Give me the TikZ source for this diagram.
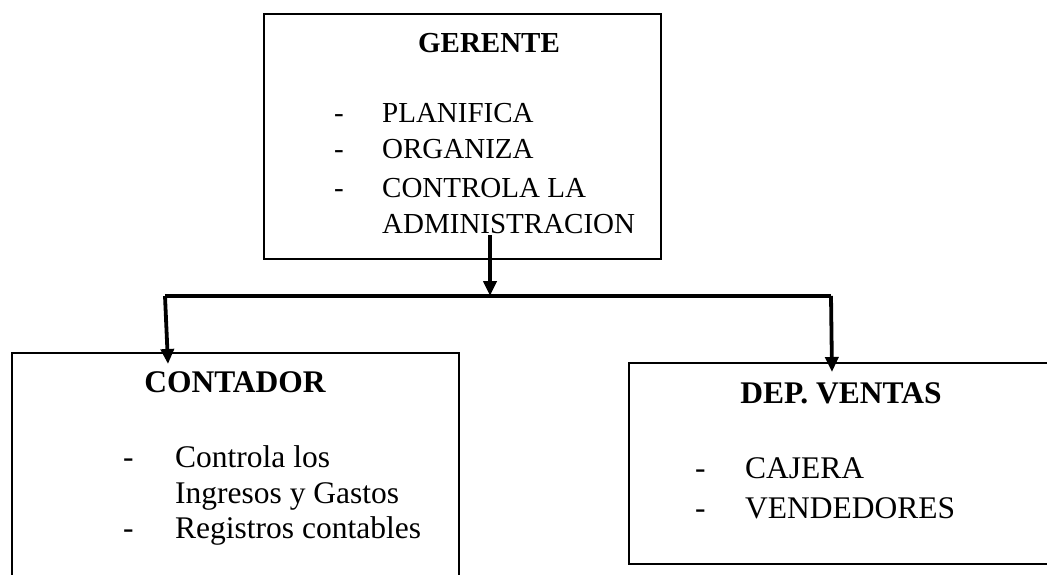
\documentclass[tikz,border=0pt]{standalone}
\usepackage{fontspec}
\setmainfont{Liberation Serif}
\usetikzlibrary{arrows.meta}
\tikzset{
  box/.style={draw=black, line width=2.2pt, inner sep=0pt, anchor=north west},
  smalltxt/.style={inner sep=0pt, anchor=base west, font=\fontsize{29}{35}\selectfont},
  bigtxt/.style={inner sep=0pt, anchor=base west, font=\fontsize{31.5}{38}\selectfont},
  headA/.style={inner sep=0pt, anchor=base, font=\fontsize{29}{35}\selectfont\bfseries},
  headB/.style={inner sep=0pt, anchor=base, font=\fontsize{31.5}{38}\selectfont\bfseries},
  conn/.style={line width=3.8pt, line join=miter},
  arr/.style={line width=3.8pt, -{Triangle[length=15pt,width=13pt]}}
}
\begin{document}
\begin{tikzpicture}[x=1pt,y=-1pt]
\useasboundingbox (0,0) rectangle (1047,575);
\clip (0,0) rectangle (1047,575);
% boxes
\node[box, minimum width=397pt, minimum height=245pt] (ger) at (263,13) {};
\node[box, minimum width=447pt, minimum height=260pt] (con) at (11,352) {};
\node[box, minimum width=450pt, minimum height=201pt] (ven) at (628,362) {};
% GERENTE text
\node[headA] (gt) at (489,53) {GERENTE};
\node[smalltxt] (gd1) at (334,123) {-};
\node[smalltxt] (gl1) at (382,123) {PLANIFICA};
\node[smalltxt] (gd2) at (334,159) {-};
\node[smalltxt] (gl2) at (382,159) {ORGANIZA};
\node[smalltxt] (gd3) at (334,197) {-};
\node[smalltxt] (gl3) at (382,197) {CONTROLA LA};
\node[smalltxt] (gl4) at (382,233) {ADMINISTRACION};
% CONTADOR text
\node[headB] (ct) at (235,392) {CONTADOR};
\node[bigtxt] (cd1) at (123,467) {-};
\node[bigtxt] (cl1) at (175,467) {Controla los};
\node[bigtxt] (cl2) at (175,503) {Ingresos y Gastos};
\node[bigtxt] (cd2) at (123,538) {-};
\node[bigtxt] (cl3) at (175,538) {Registros contables};
% DEP. VENTAS text
\node[headB] (vt) at (841,403) {DEP. VENTAS};
\node[bigtxt] (vd1) at (695,478) {-};
\node[bigtxt] (vl1) at (745,478) {CAJERA};
\node[bigtxt] (vd2) at (695,518) {-};
\node[bigtxt] (vl2) at (745,518) {VENDEDORES};
% connectors
\coordinate (stem) at (490,235);
\coordinate (junc) at (490,296);
\coordinate (lc) at (165,296);
\coordinate (rc) at (831,296);
\coordinate (ltip) at (168,364);
\coordinate (rtip) at (832,372);
\draw[arr] (stem) -- (junc);
\draw[conn] (lc) -- (rc);
\draw[arr] (lc) -- (ltip);
\draw[arr] (rc) -- (rtip);
\end{tikzpicture}
\end{document}
